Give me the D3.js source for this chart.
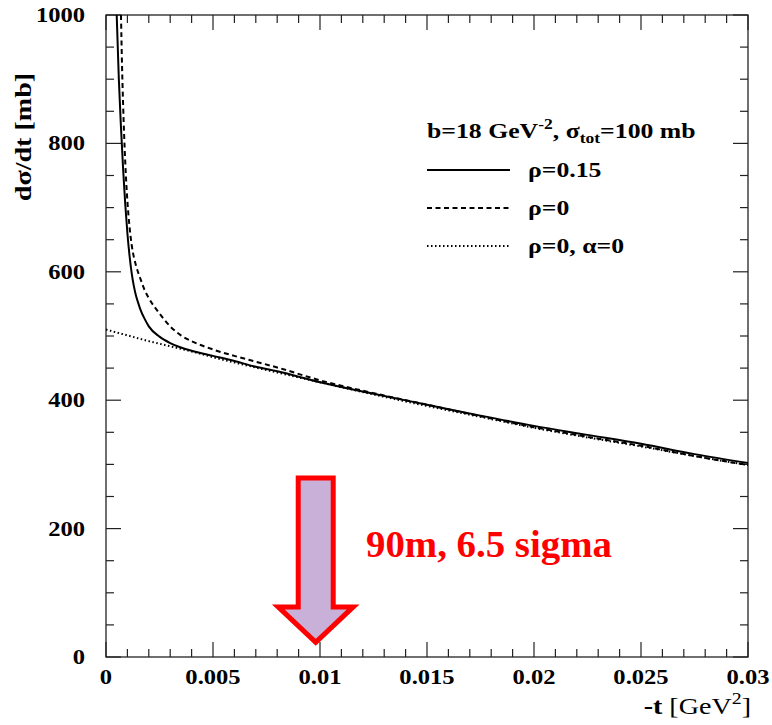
<!DOCTYPE html>
<html>
<head>
<meta charset="utf-8">
<script src="https://cdn.jsdelivr.net/npm/d3@7"></script>
<style>
  body { margin: 0; background: #fff; }
  svg { display: block; }
</style>
</head>
<body>
<svg id="chart" width="772" height="725"></svg>
<script>
// values: -t in GeV^2, dsigma/dt in mb/GeV^2
const tRho015 = [0.0005, 0.0006, 0.0007, 0.0008, 0.0009, 0.001, 0.0011, 0.0012, 0.0013, 0.0014, 0.0015, 0.0016, 0.0018, 0.002, 0.0025, 0.003, 0.0035, 0.004, 0.005, 0.006, 0.007, 0.008, 0.01, 0.0125, 0.015, 0.0175, 0.02, 0.0225, 0.025, 0.0275, 0.03];
const rho015 = [1000, 900, 825, 760, 705, 660, 625, 598, 578, 563, 552, 542, 527, 515, 499, 489, 482, 477, 469, 461, 452, 445, 428, 410, 393, 376, 360, 346, 332, 316, 302];

const tRho0 = [0.0007, 0.00075, 0.0008, 0.0009, 0.001, 0.0011, 0.0012, 0.0014, 0.0016, 0.0018, 0.002, 0.0025, 0.003, 0.0035, 0.004, 0.005, 0.006, 0.007, 0.008, 0.01, 0.0125, 0.015, 0.0175, 0.02, 0.0225, 0.025, 0.0275, 0.03];
const rho0 = [1000, 920, 860, 770, 710, 670, 642, 610, 590, 572, 559, 535, 515, 501, 492, 479, 469, 460, 451, 431, 411, 393, 375, 358, 343, 329, 313, 299];

const tNoCoul = [0, 0.001, 0.002, 0.003, 0.004, 0.005, 0.0075, 0.01, 0.0125, 0.015, 0.0175, 0.02, 0.0225, 0.025, 0.0275, 0.03];
const noCoul = [510, 501, 492, 484, 476, 467, 447, 428, 409, 391, 374, 357, 342, 328, 313, 299];

const xTicks = [0, 0.005, 0.01, 0.015, 0.02, 0.025, 0.03];
const xTickLabels = ["0", "0.005", "0.01", "0.015", "0.02", "0.025", "0.03"];
const yTicks = [0, 200, 400, 600, 800, 1000];

const seriesNames = ["\u03c1=0.15", "\u03c1=0", "\u03c1=0, \u03b1=0"];
const arrowTip = { t: 0.0098, v: 23 };
const arrowTop = 279;
const arrowHeadBase = 78;
const noteText = "90m, 6.5 sigma";

const serif = "'Liberation Serif', 'Times New Roman', serif";
const svg = d3.select("#chart");
const plotL = 106, plotR = 748, plotT = 15, plotB = 657;
const stretch = 1.17; // the original lettering is a bit wider than Times

// text placed at (px,py) and widened horizontally
function stext(parent, px, py, sx, rot) {
  return parent.append("g")
    .attr("transform", `translate(${px},${py})` + (rot ? ` rotate(${rot})` : "") + ` scale(${sx || stretch},1)`)
    .append("text")
    .attr("font-family", serif).attr("font-weight", "bold");
}

const x = d3.scaleLinear().domain([0, 0.03]).range([plotL, plotR]);
const y = d3.scaleLinear().domain([0, 1000]).range([plotB, plotT]);

svg.append("defs").append("clipPath").attr("id", "plotClip")
  .append("rect").attr("x", plotL).attr("y", plotT)
  .attr("width", plotR - plotL).attr("height", plotB - plotT);

// frame
svg.append("rect")
  .attr("x", plotL).attr("y", plotT)
  .attr("width", plotR - plotL).attr("height", plotB - plotT)
  .attr("fill", "none").attr("stroke", "#222").attr("stroke-width", 1.3);

// ticks (major + minor) on all four sides
const xMinor = d3.range(0, 31).map(i => i * 0.001);
const yMinor = d3.range(0, 21).map(i => i * 50);
const ticks = svg.append("g").attr("stroke", "#222").attr("stroke-width", 1.2);

xMinor.forEach((t, i) => {
  const len = i % 5 === 0 ? 15 : 8;
  ticks.append("line").attr("x1", x(t)).attr("x2", x(t)).attr("y1", plotB).attr("y2", plotB - len);
  ticks.append("line").attr("x1", x(t)).attr("x2", x(t)).attr("y1", plotT).attr("y2", plotT + len);
});
yMinor.forEach((v, i) => {
  const len = i % 4 === 0 ? 15 : 8;
  ticks.append("line").attr("y1", y(v)).attr("y2", y(v)).attr("x1", plotL).attr("x2", plotL + len);
  ticks.append("line").attr("y1", y(v)).attr("y2", y(v)).attr("x1", plotR).attr("x2", plotR - len);
});

// tick labels
const labels = svg.append("g");
xTicks.forEach((d, i) => {
  stext(labels, x(d), plotB + 27).attr("text-anchor", "middle")
    .attr("font-size", 21).text(xTickLabels[i]);
});
yTicks.forEach(d => {
  stext(labels, plotL - 21, y(d) + 7).attr("text-anchor", "end")
    .attr("font-size", 21).text(d);
});

// axis titles
const xt = stext(svg, 751, 714).attr("text-anchor", "end").attr("font-size", 24);
xt.append("tspan").text("-t ");
xt.append("tspan").attr("font-weight", "normal").text("[GeV");
xt.append("tspan").attr("font-weight", "normal").attr("dy", -10).attr("font-size", 17).text("2");
xt.append("tspan").attr("font-weight", "normal").attr("dy", 10).text("]");

stext(svg, 31, 137, stretch, -90).attr("text-anchor", "middle")
  .attr("font-size", 24).text("d\u03c3/dt [mb]");

// curves
const line = d3.line().curve(d3.curveMonotoneX);
const curves = svg.append("g").attr("clip-path", "url(#plotClip)").attr("fill", "none").attr("stroke", "#000");

curves.append("path")
  .attr("d", line(tNoCoul.map((t, i) => [x(t), y(noCoul[i])])))
  .attr("stroke-width", 2).attr("stroke-dasharray", "1.5,2.5");
curves.append("path")
  .attr("d", line(tRho0.map((t, i) => [x(t), y(rho0[i])])))
  .attr("stroke-width", 2).attr("stroke-dasharray", "5,3.5");
curves.append("path")
  .attr("d", line(tRho015.map((t, i) => [x(t), y(rho015[i])])))
  .attr("stroke-width", 2);

// legend
const leg = svg.append("g");
const title = stext(leg, 427, 138).attr("font-size", 22);
title.append("tspan").text("b=18 GeV");
title.append("tspan").attr("dy", -9).attr("font-size", 15).text("-2");
title.append("tspan").attr("dy", 9).text(", \u03c3");
title.append("tspan").attr("dy", 5).attr("font-size", 15).text("tot");
title.append("tspan").attr("dy", -5).text("=100 mb");

const dashes = [null, "5,3.5", "1.5,2.5"];
seriesNames.forEach((name, i) => {
  const ly = 170 + i * 38;
  leg.append("line").attr("x1", 427).attr("x2", 510).attr("y1", ly).attr("y2", ly)
    .attr("stroke", "#000").attr("stroke-width", 2)
    .attr("stroke-dasharray", dashes[i]);
  stext(leg, 528, ly + 7).attr("font-size", 22).text(name);
});

// arrow annotation
const tx = x(arrowTip.t), ty = y(arrowTip.v);
const yTop = y(arrowTop), yHead = y(arrowHeadBase);
const sw = 17.5, hw = 37.5;
const arrowPts = [
  [tx - sw, yTop], [tx + sw, yTop], [tx + sw, yHead], [tx + hw, yHead],
  [tx, ty], [tx - hw, yHead], [tx - sw, yHead]
];
svg.append("polygon")
  .attr("points", arrowPts.map(p => p.join(",")).join(" "))
  .attr("fill", "#c8b0d8").attr("stroke", "#ff0000")
  .attr("stroke-width", 5).attr("stroke-linejoin", "miter");

stext(svg, 366, 557, 1.05).attr("font-size", 37).attr("fill", "#ff0000")
  .text(noteText);
</script>
</body>
</html>
